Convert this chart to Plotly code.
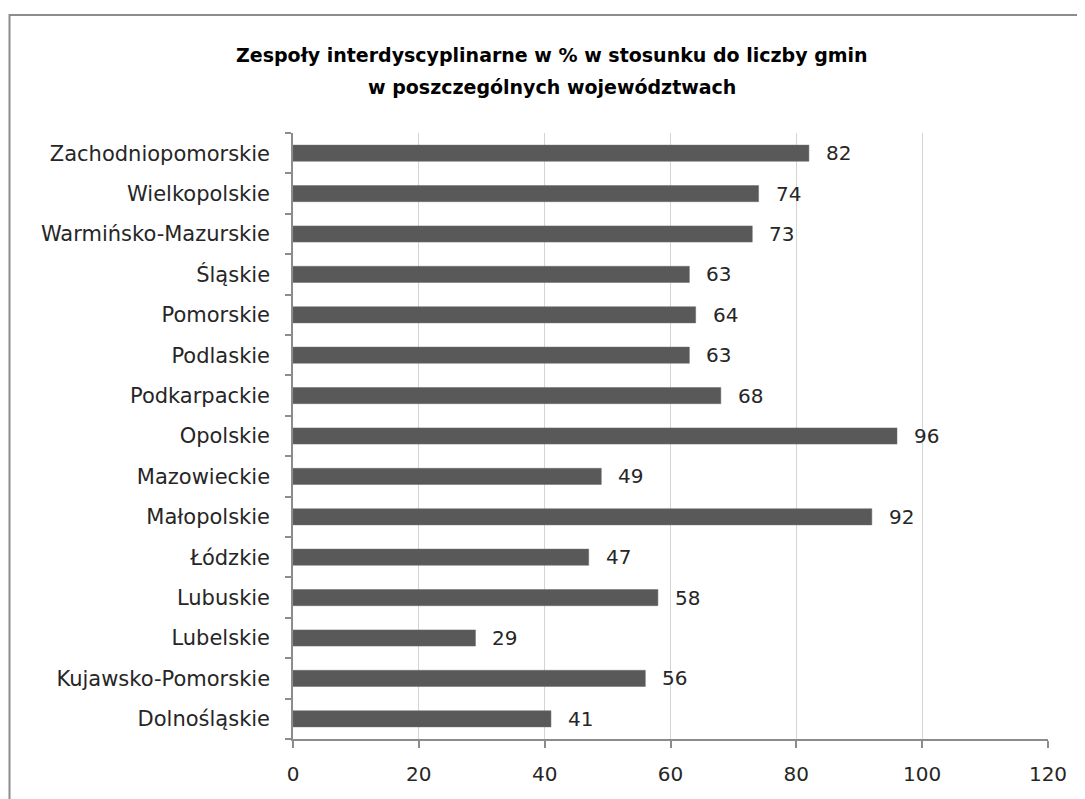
import plotly.graph_objects as go

categories = ["Dolnośląskie", "Kujawsko-Pomorskie", "Lubelskie", "Lubuskie", "Łódzkie",
              "Małopolskie", "Mazowieckie", "Opolskie", "Podkarpackie", "Podlaskie",
              "Pomorskie", "Śląskie", "Warmińsko-Mazurskie", "Wielkopolskie", "Zachodniopomorskie"]
values = [41, 56, 29, 58, 47, 92, 49, 96, 68, 63, 64, 63, 73, 74, 82]
x_ticks = [0, 20, 40, 60, 80, 100, 120]
title_lines = ["Zespoły interdyscyplinarne w % w stosunku do liczby gmin",
               "w poszczególnych województwach"]

FONT = "DejaVu Sans"
TXT = "#262626"
W, H = 1085, 799
OFF = 8  # page body offset
L, R, T, B = 293 - OFF, 1048 - OFF, 133 - OFF, 739 - OFF

fig = go.Figure()
fig.add_trace(go.Bar(
    x=values, y=categories, orientation="h",
    marker=dict(color="#595959", line=dict(color="#6a6a6a", width=0.5)),
    hoverinfo="x+y",
))

for c, v in zip(categories, values):
    fig.add_annotation(x=v, y=c, text=str(v), showarrow=False, xanchor="left",
                       xshift=15, font=dict(family=FONT, size=20, color=TXT))

pw, ph = R - L, B - T
def px(xp):
    return (xp - OFF - L) / pw
def py(yp):
    return (B - (yp - OFF)) / ph

# outer chart frame (left edge kept inside the page)
fig.add_shape(type="rect", xref="paper", yref="paper",
              x0=px(OFF + 1.5), x1=px(1110), y0=py(830), y1=py(15),
              line=dict(color="#8c8c8c", width=2), fillcolor="rgba(0,0,0,0)", layer="below")

for line, yy in zip(title_lines, [55, 87]):
    fig.add_annotation(xref="paper", yref="paper", x=px(552), y=py(yy), xanchor="center",
                       yanchor="middle", showarrow=False,
                       text="<b>" + line + "</b>",
                       font=dict(family=FONT, size=19, color="#000000"))

fig.update_layout(
    width=W, height=H,
    margin=dict(l=L, r=W - R, t=T, b=H - B, pad=0),
    paper_bgcolor="white", plot_bgcolor="white",
    bargap=0.6, showlegend=False,
    font=dict(family=FONT, size=20, color=TXT),
)
fig.update_xaxes(range=[0, 120], tickvals=x_ticks, showgrid=True, gridcolor="#d4d4d4",
                 gridwidth=1, showline=True, linecolor="#8c8c8c", linewidth=1.5,
                 ticks="outside", ticklen=7, tickcolor="#8c8c8c", tickwidth=1.5,
                 ticklabelstandoff=9,
                 zeroline=False, tickfont=dict(family=FONT, size=20, color=TXT))
fig.update_yaxes(type="category", categoryorder="array", categoryarray=categories,
                 showgrid=False, showline=True, linecolor="#8c8c8c", linewidth=1.5,
                 ticks="outside", ticklen=6, tickcolor="#8c8c8c", tickwidth=1.5,
                 tickson="boundaries", ticklabelstandoff=17,
                 tickfont=dict(family=FONT, size=21, color=TXT))

fig.write_html("out.html")
